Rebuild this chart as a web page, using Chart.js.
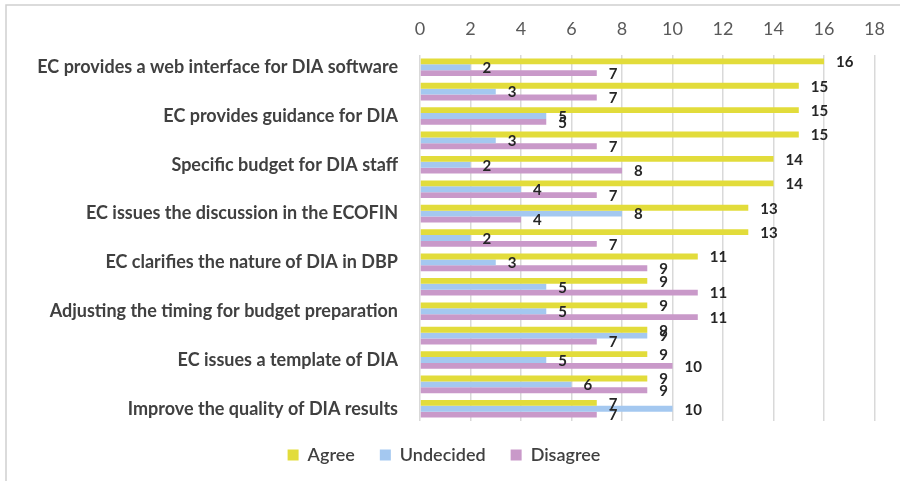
<!DOCTYPE html>
<html>
<head>
<meta charset="utf-8">
<script src="https://cdn.jsdelivr.net/npm/chart.js@4/dist/chart.umd.min.js"></script>
<style>
  html, body { margin: 0; padding: 0; background: #fff; }
  #wrap { width: 900px; height: 481px; position: relative; }
</style>
</head>
<body>
<div id="wrap"><canvas id="surveyChart" width="900" height="481"></canvas></div>
<script>
// only every other category is labelled in the source chart
const categories = [
    'EC provides a web interface for DIA software', '',
    'EC provides guidance for DIA', '',
    'Specific budget for DIA staff', '',
    'EC issues the discussion in the ECOFIN', '',
    'EC clarifies the nature of DIA in DBP', '',
    'Adjusting the timing for budget preparation', '',
    'EC issues a template of DIA', '',
    'Improve the quality of DIA results'
];
const agree     = [16, 15, 15, 15, 14, 14, 13, 13, 11, 9, 9, 9, 9, 9, 7];
const undecided = [2, 3, 5, 3, 2, 4, 8, 2, 3, 5, 5, 9, 5, 6, 10];
const disagree  = [7, 7, 5, 7, 8, 7, 4, 7, 9, 11, 11, 7, 10, 9, 7];
const xTicks = [0, 2, 4, 6, 8, 10, 12, 14, 16, 18];

const FONT = 'Lato, "Open Sans", sans-serif';

// draws the value next to the end of each bar
const valueLabels = {
    id: 'valueLabels',
    afterDatasetsDraw(chart) {
        const ctx = chart.ctx;
        ctx.save();
        ctx.font = 'bold 15px ' + FONT;
        ctx.fillStyle = '#262626';
        ctx.textAlign = 'left';
        ctx.textBaseline = 'middle';
        chart.data.datasets.forEach((ds, i) => {
            chart.getDatasetMeta(i).data.forEach((bar, j) => {
                ctx.fillText(ds.data[j], bar.x + 12, bar.y + 1);
            });
        });
        ctx.restore();
    }
};

// thin frame on the top and left, as in the screenshot
const frame = {
    id: 'frame',
    beforeDraw(chart) {
        const ctx = chart.ctx;
        ctx.save();
        ctx.strokeStyle = '#d0d0d0';
        ctx.lineWidth = 1.5;
        ctx.beginPath();
        ctx.moveTo(6, 481);
        ctx.lineTo(6, 5);
        ctx.lineTo(900, 5);
        ctx.stroke();
        ctx.restore();
    }
};

const surveyChart = new Chart(document.getElementById('surveyChart').getContext('2d'), {
    type: 'bar',
    data: {
        labels: categories,
        datasets: [
            { label: 'Agree', data: agree, backgroundColor: '#e2dc3b' },
            { label: 'Undecided', data: undecided, backgroundColor: '#a4c8f0' },
            { label: 'Disagree', data: disagree, backgroundColor: '#c999c9' }
        ]
    },
    options: {
        indexAxis: 'y',
        responsive: false,
        animation: false,
        categoryPercentage: 0.72,
        barPercentage: 1.0,
        layout: { padding: { left: 8, right: 20, top: 8, bottom: 7 } },
        scales: {
            x: {
                position: 'top',
                min: 0,
                max: 18,
                afterBuildTicks: (scale) => { scale.ticks = xTicks.map(v => ({ value: v })); },
                afterFit: (scale) => { scale.height = 47; },
                grid: { color: '#d9d9d9', lineWidth: 1.5, drawTicks: false },
                border: { display: false },
                ticks: { color: '#595959', font: { family: FONT, size: 18 }, padding: 15 }
            },
            y: {
                afterFit: (scale) => { scale.width = 412; },
                grid: { display: false },
                border: { display: false },
                ticks: {
                    autoSkip: false,
                    color: '#404040',
                    font: { family: FONT, size: 18, weight: 'bold' },
                    padding: 14
                }
            }
        },
        plugins: {
            legend: {
                position: 'bottom',
                labels: {
                    color: '#404040',
                    font: { family: FONT, size: 18, weight: '600' },
                    boxWidth: 11,
                    boxHeight: 11,
                    padding: 25
                }
            },
            tooltip: { enabled: false }
        }
    },
    plugins: [valueLabels, frame]
});
</script>
</body>
</html>
